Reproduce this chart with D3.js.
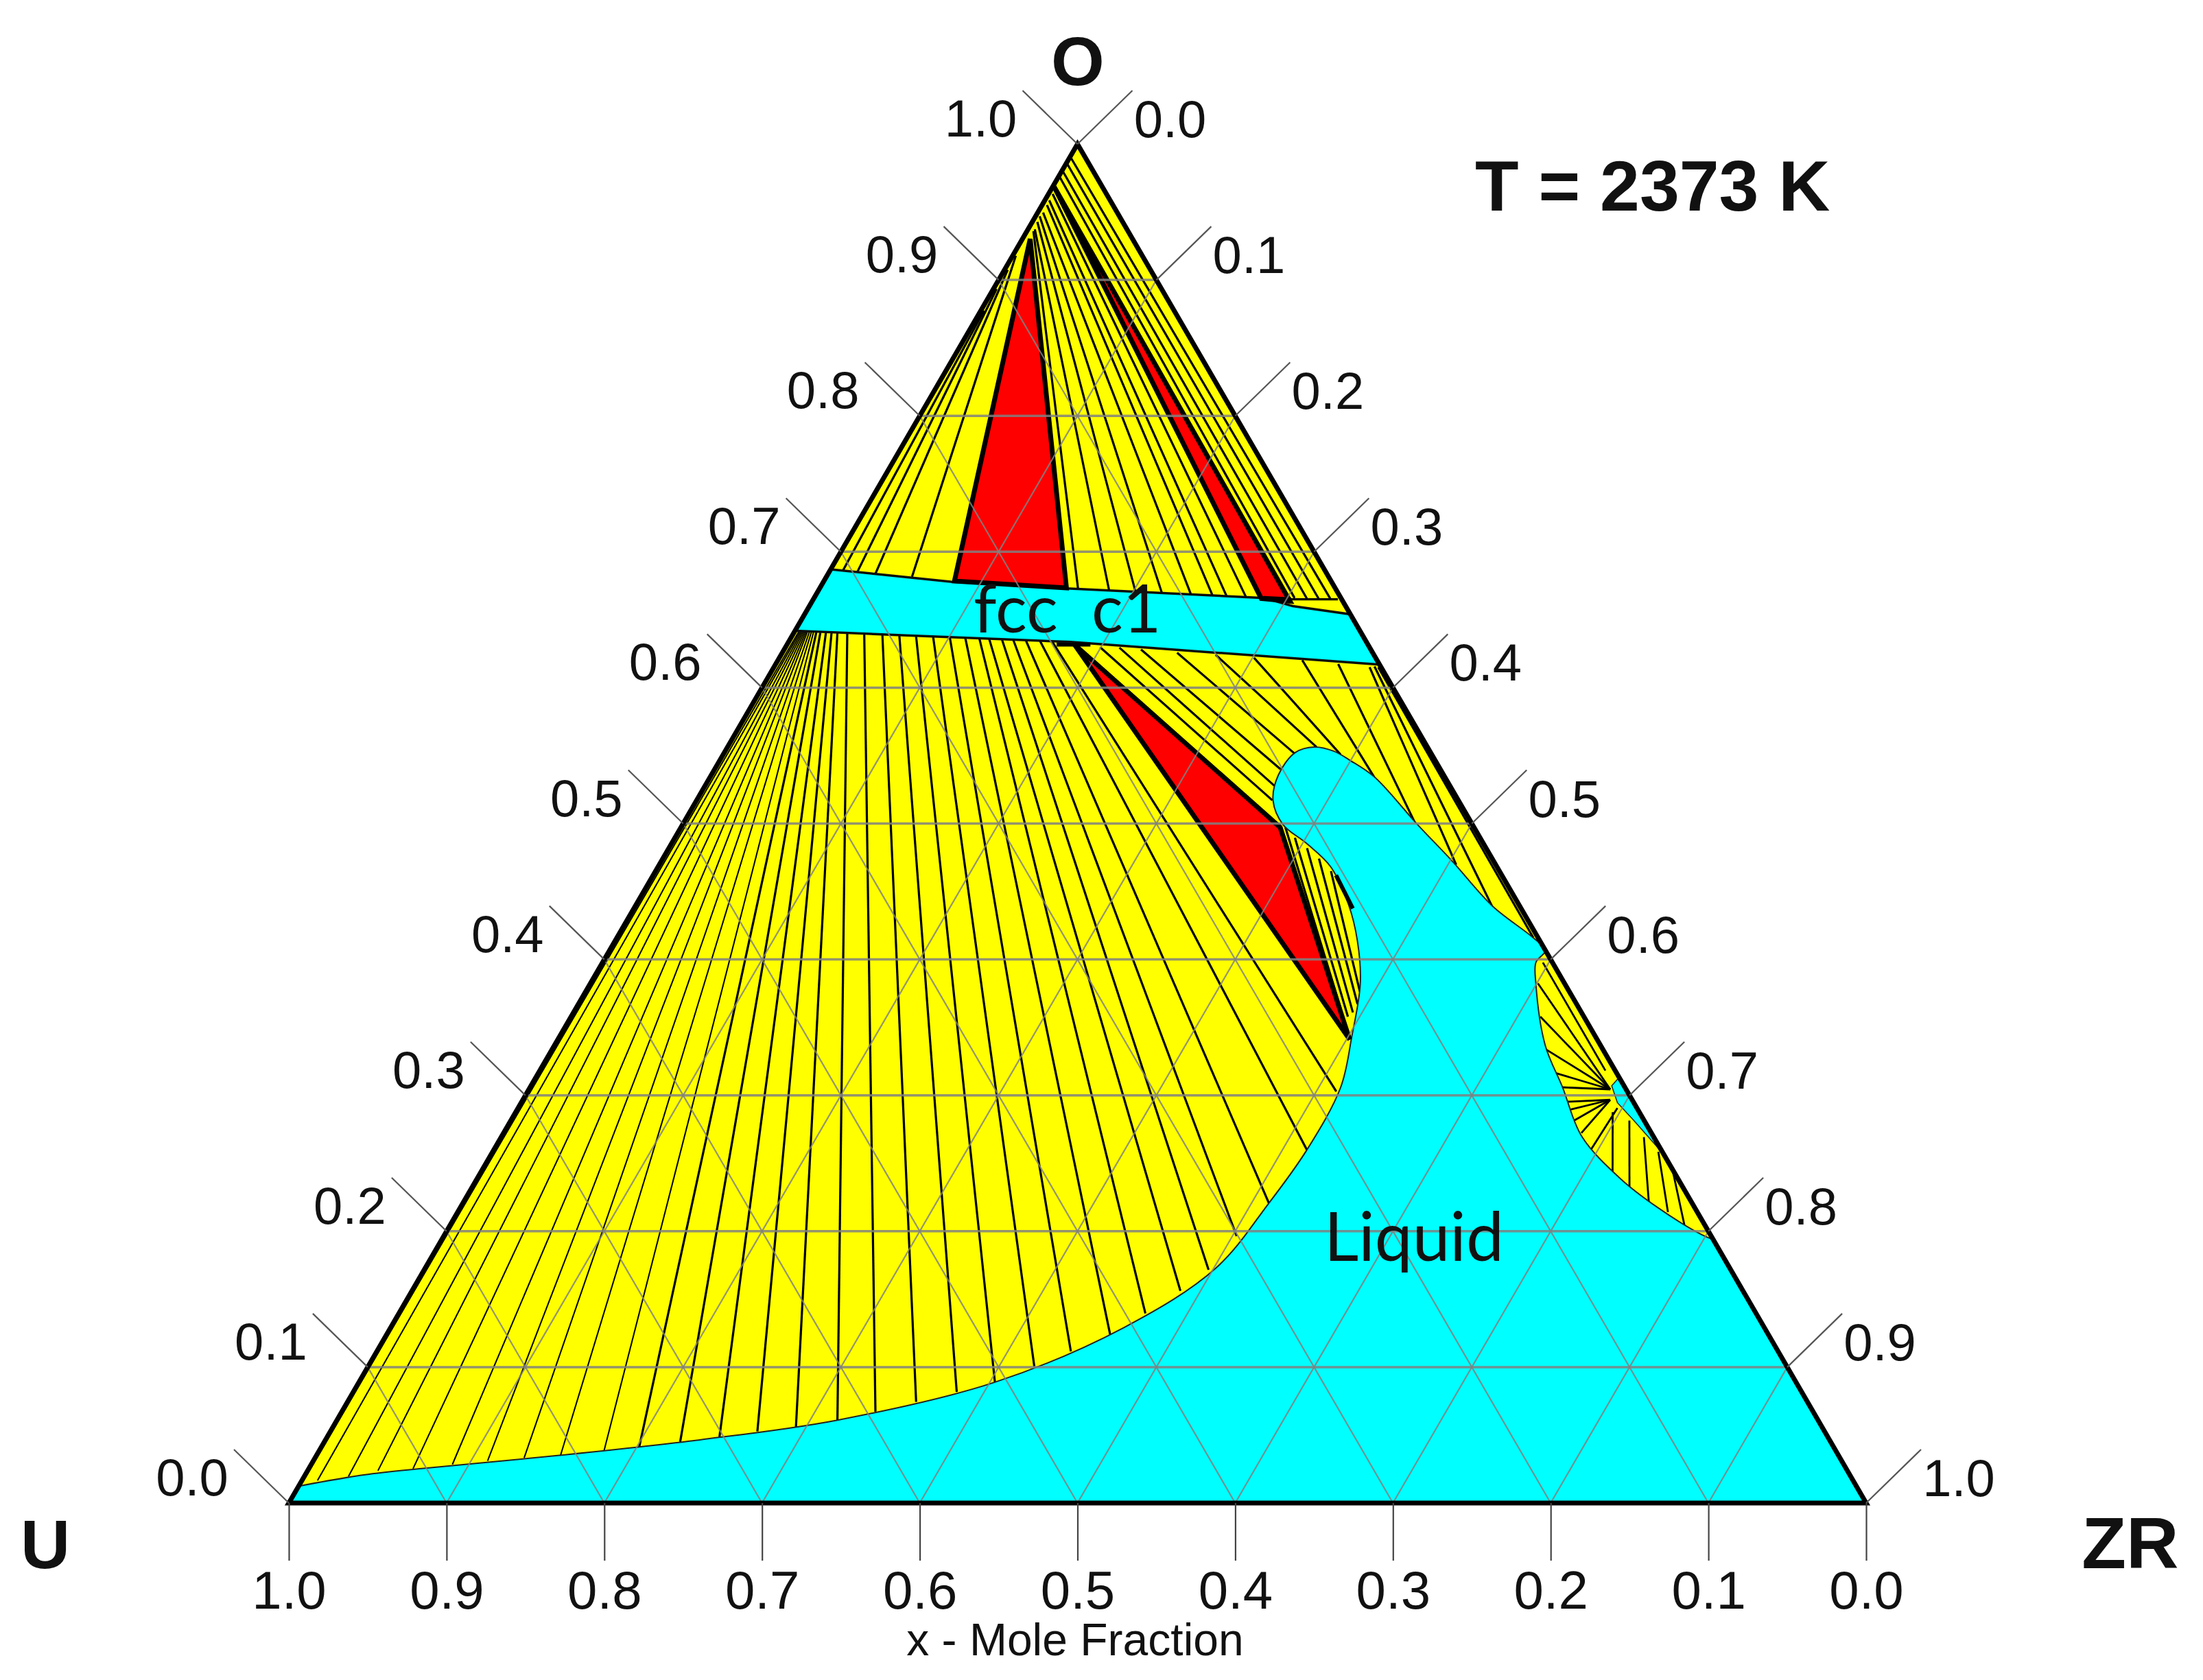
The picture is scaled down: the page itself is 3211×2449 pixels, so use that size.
<!DOCTYPE html>
<html>
<head>
<meta charset="utf-8">
<script src="https://cdn.jsdelivr.net/npm/d3@7"></script>
<style>
  body { margin: 0; background: #fff; }
  text { font-family: "Liberation Sans", Arial, sans-serif; fill: #111; }
  .note { font-family: Lato, "Open Sans", sans-serif; white-space: pre; }
</style>
</head>
<body>
<script>
// all points are mole fractions [xZr, xO]
var gridValues = [0.1, 0.2, 0.3, 0.4, 0.5, 0.6, 0.7, 0.8, 0.9];
var tickValues = [0, 0.1, 0.2, 0.3, 0.4, 0.5, 0.6, 0.7, 0.8, 0.9, 1];

var liquidBoundary = [
  [0, .0124], [.0372, .0207], [.0748, .0258], [.1539, .0351], [.2373, .0465],
  [.3173, .0610], [.4032, .0889], [.4650, .1292], [.5012, .1726], [.5110, .2207],
  [.5155, .2599], [.5139, .3059], [.5023, .3432], [.4881, .3824], [.4708, .4134],
  [.4514, .4407], [.4264, .4682], [.4028, .4852], [.3807, .4992], [.3656, .5168],
  [.3595, .5356], [.3619, .5522], [.3720, .5563], [.3857, .5533], [.3999, .5463],
  [.4209, .5344], [.4660, .4992], [.5008, .4728], [.5434, .4393], [.5810, .4159],
  [.5933, .4067], [.5917, .3979], [.5994, .3824], [.6280, .3370], [.6546, .3059],
  [.6848, .2698], [.7247, .2388], [.7597, .2171], [.7971, .1974], [.8062, .1938]
];
var fccBand = [
  [0, .687], [.0806, .678], [.1565, .673], [.2853, .666], [.3064, .660], [.346, .654],
  [.383, .617], [.2718, .626], [.1789, .6336], [.0641, .6388], [0, .6419]
];
var fccSliver = [
  [.6852, .3070], [.6868, .3132], [.7437, .2563], [.7125, .2811], [.6950, .2946]
];

var redUpperLeft = [[.0049, .9302], [.0828, .6784], [.1563, .6734]];
var redUpperRight = [[.0010, .9685], [.2837, .6656], [.3029, .6636]];
var redLower = [[.1825, .6315], [.3799, .4972], [.5020, .3411]];

// tie lines, [xZr, xO, xZr, xO]
var tiesNearCorner = [
  [.0011, .0145, .0027, .6419], [.0099, .0165, .0036, .6419], [.0280, .0196, .0045, .6419],
  [.0446, .0238, .0054, .6418], [.0661, .0253, .0063, .6418], [.0895, .0284, .0072, .6417],
  [.1105, .0310, .0081, .6417], [.1326, .0331, .0094, .6416], [.1547, .0351, .0107, .6415],
  [.1805, .0388, .0121, .6413]
];
var tiesLiquidFan = [
  [.2015, .0413, .0139, .6412], [.2256, .0450, .0165, .6411],
  [.2487, .0486, .0201, .6409], [.2707, .0527, .0237, .6408], [.2936, .0558, .0275, .6406],
  [.3173, .0610, .0339, .6403], [.3383, .0672, .0449, .6398], [.3605, .0744, .0567, .6392],
  [.3826, .0817, .0678, .6385], [.4032, .0889, .0786, .6381], [.4225, .1003, .0896, .6377],
  [.4400, .1116, .1005, .6371], [.4587, .1240, .1105, .6367], [.4733, .1395, .1196, .6363],
  [.4872, .1561, .1260, .6360], [.4973, .1716, .1342, .6357], [.5027, .1964, .1415, .6354],
  [.5110, .2207, .1497, .6350], [.5155, .2599, .1588, .6346], [.5127, .3028, .1667, .6342]
];
var tiesUpperLeft = [
  [.0082, .6863, .002, .8775], [.0179, .6848, .002, .8934],
  [.0300, .6837, .002, .9075], [.0543, .6816, .002, .9178]
];
var tiesUpperMiddle = [
  [.0041, .9359, .1642, .6724], [.0043, .9373, .1850, .6705], [.0032, .9427, .2025, .6692],
  [.0026, .9469, .2195, .6686], [.0034, .9496, .2383, .6678], [.0031, .9551, .2524, .6670],
  [.0028, .9586, .2617, .6664], [.0026, .9633, .2742, .6659]
];
var tiesUpperRight = [
  [.001, .9756, .3047, .6659], [.001, .9797, .3126, .6656],
  [.001, .9852, .3203, .6653], [.001, .9898, .3280, .6650],
  [.3029, .6650, .3326, .6650]
];
var tiesBelowBand = [
  [.1995, .6297, .3650, .5171], [.2119, .6294, .3609, .5278], [.2262, .6281, .3587, .5400],
  [.2503, .6257, .3622, .5513], [.2755, .6242, .3735, .5562], [.3009, .6220, .3915, .5507],
  [.3324, .6202, .4213, .5339], [.3566, .6174, .4640, .5002], [.3777, .6150, .5053, .4696],
  [.3805, .6156, .5434, .4390], [.3832, .6150, .5809, .4161]
];
var tiesBehindRed = [
  [.3832, .4972, .4848, .3641], [.3931, .4895, .4925, .3579], [.4046, .4819, .4941, .3610],
  [.4160, .4742, .4940, .3671], [.4282, .4650, .4909, .3763]
];
var tiesSliver = [
  [.6007, .3824, .6856, .3044], [.6145, .3579, .6856, .3044], [.6307, .3335, .6856, .3044],
  [.6443, .3166, .6856, .3044], [.6543, .3059, .6856, .3044], [.5962, .3977, .6756, .3182],
  [.6611, .2952, .6894, .2967], [.6663, .2891, .6894, .2967], [.6741, .2814, .6894, .2967],
  [.6833, .2723, .6894, .2967], [.6955, .2600, .6970, .2906],
  [.6955, .2876, .7184, .2417], [.7092, .2814, .7337, .2325], [.7245, .2692, .7513, .2218],
  [.7390, .2585, .7673, .2141], [.7550, .2447, .7833, .2034]
];
var heavyTies = [
  [.4329, .4620, .4558, .4375],
  [.2849, .6659, .3029, .6650],
  [.1709, .6318, .1923, .6318]
];

var width = 3211, height = 2449;
var x = d3.scaleLinear().domain([0, 1]).range([421, 2720]);
var y = d3.scaleLinear().domain([0, 1]).range([2191, 210]);
var uAxisScale = d3.scaleLinear().domain([1, 0]).range([421, 2720]);

function px(d) { return x(d[0] + d[1] / 2); }
function py(d) { return y(d[1]); }

var outline = d3.line().x(px).y(py);
var smooth = d3.line().x(px).y(py).curve(d3.curveCatmullRom);

var svg = d3.select("body").append("svg")
  .attr("width", width)
  .attr("height", height);

var defs = svg.append("defs");
defs.append("filter").attr("id", "soft")
  .append("feGaussianBlur").attr("stdDeviation", 0.7);

var plot = svg.append("g").attr("filter", "url(#soft)");

function area(pathData, fill, stroke, strokeWidth) {
  plot.append("path")
    .attr("d", pathData)
    .attr("fill", fill)
    .attr("stroke", stroke)
    .attr("stroke-width", strokeWidth)
    .attr("stroke-linejoin", "miter");
}

function ties(rows, strokeWidth) {
  plot.append("g").selectAll("line")
    .data(rows)
    .enter()
    .append("line")
    .attr("x1", function(d) { return px([d[0], d[1]]); })
    .attr("y1", function(d) { return py([d[0], d[1]]); })
    .attr("x2", function(d) { return px([d[2], d[3]]); })
    .attr("y2", function(d) { return py([d[2], d[3]]); })
    .attr("stroke", "#000")
    .attr("stroke-width", strokeWidth);
}

var corners = [[0, 0], [1, 0], [0, 1]];
area(outline(corners) + "Z", "#ffff00", "none", 0);

ties(tiesNearCorner, 2);
ties(tiesLiquidFan, 3.2);
ties(tiesUpperLeft, 3.2);
ties(tiesUpperMiddle, 3.2);
ties(tiesUpperRight, 3.2);
ties(tiesBelowBand, 3.2);
ties(tiesBehindRed, 3.2);
ties(tiesSliver, 2.8);

// the liquid edge is smooth, then closes along the side and the base
area(smooth(liquidBoundary) + outline([[1, 0], [0, 0]]).replace("M", "L") + "Z", "#00ffff", "#222", 2);
area(outline(fccBand) + "Z", "#00ffff", "#111", 3.5);
area(outline(fccSliver) + "Z", "#00ffff", "#222", 1.5);
area(outline(redUpperLeft) + "Z", "#ff0000", "#000", 7);
area(outline(redUpperRight) + "Z", "#ff0000", "#000", 7);
area(outline(redLower) + "Z", "#ff0000", "#000", 7);
ties(heavyTies, 6);

// composition grid
var gridRows = [];
gridValues.forEach(function(v) {
  gridRows.push({a: [0, v], b: [1 - v, v], w: 3.5});
  gridRows.push({a: [v, 0], b: [v, 1 - v], w: 2.2});
  gridRows.push({a: [v, 0], b: [0, v], w: 2.2});
});
plot.append("g").selectAll("line")
  .data(gridRows)
  .enter()
  .append("line")
  .attr("x1", function(d) { return px(d.a); })
  .attr("y1", function(d) { return py(d.a); })
  .attr("x2", function(d) { return px(d.b); })
  .attr("y2", function(d) { return py(d.b); })
  .attr("stroke", "#808080")
  .attr("stroke-opacity", 0.85)
  .attr("stroke-width", function(d) { return d.w; });

area(outline(corners) + "Z", "none", "#000", 7);

// bottom axis, fraction of U
var bottomAxis = d3.axisBottom(uAxisScale)
  .tickValues(tickValues)
  .tickSize(84)
  .tickFormat(d3.format(".1f"));
var bottomG = svg.append("g")
  .attr("transform", "translate(0," + y(0) + ")")
  .call(bottomAxis);
bottomG.select(".domain").remove();
bottomG.selectAll(".tick line").attr("stroke", "#444").attr("stroke-width", 2.2);
bottomG.selectAll(".tick text")
  .attr("y", 154)
  .attr("dy", 0)
  .attr("font-size", 78)
  .attr("font-family", "Liberation Sans")
  .attr("fill", "#111");

// slanted ticks on both sloped sides
var leftTicks = svg.append("g").selectAll("g")
  .data(tickValues)
  .enter()
  .append("g")
  .attr("transform", function(v) {
    return "translate(" + px([0, v]) + "," + py([0, v]) + ")";
  });
leftTicks.append("line")
  .attr("x2", -80).attr("y2", -78)
  .attr("stroke", "#555").attr("stroke-width", 2.2);
leftTicks.append("text")
  .attr("x", -141).attr("y", -11)
  .attr("text-anchor", "middle")
  .attr("font-size", 76)
  .text(d3.format(".1f"));

var rightTicks = svg.append("g").selectAll("g")
  .data(tickValues)
  .enter()
  .append("g")
  .attr("transform", function(v) {
    return "translate(" + px([v, 1 - v]) + "," + py([v, 1 - v]) + ")";
  });
rightTicks.append("line")
  .attr("x2", 80).attr("y2", -78)
  .attr("stroke", "#555").attr("stroke-width", 2.2);
rightTicks.append("text")
  .attr("x", 135).attr("y", -10)
  .attr("text-anchor", "middle")
  .attr("font-size", 76)
  .text(d3.format(".1f"));

function label(txt, tx, ty, size, weight, anchor, cls) {
  svg.append("text")
    .attr("class", cls || null)
    .attr("x", tx).attr("y", ty)
    .attr("font-size", size)
    .attr("font-weight", weight)
    .attr("text-anchor", anchor)
    .text(txt);
}

label("O", 1571, 124, 100, "bold", "middle");
label("U", 66, 2286, 100, "bold", "middle");
label("ZR", 3105, 2286, 106, "bold", "middle");
label("T = 2373 K", 2150, 307, 104, "bold", "start");
label("x - Mole Fraction", 1567, 2413, 66, "normal", "middle");
label("fcc  c1", 1419, 922, 96, "normal", "start", "note");
label("Liquid", 1930, 1838, 98, "normal", "start", "note");
</script>
</body>
</html>
